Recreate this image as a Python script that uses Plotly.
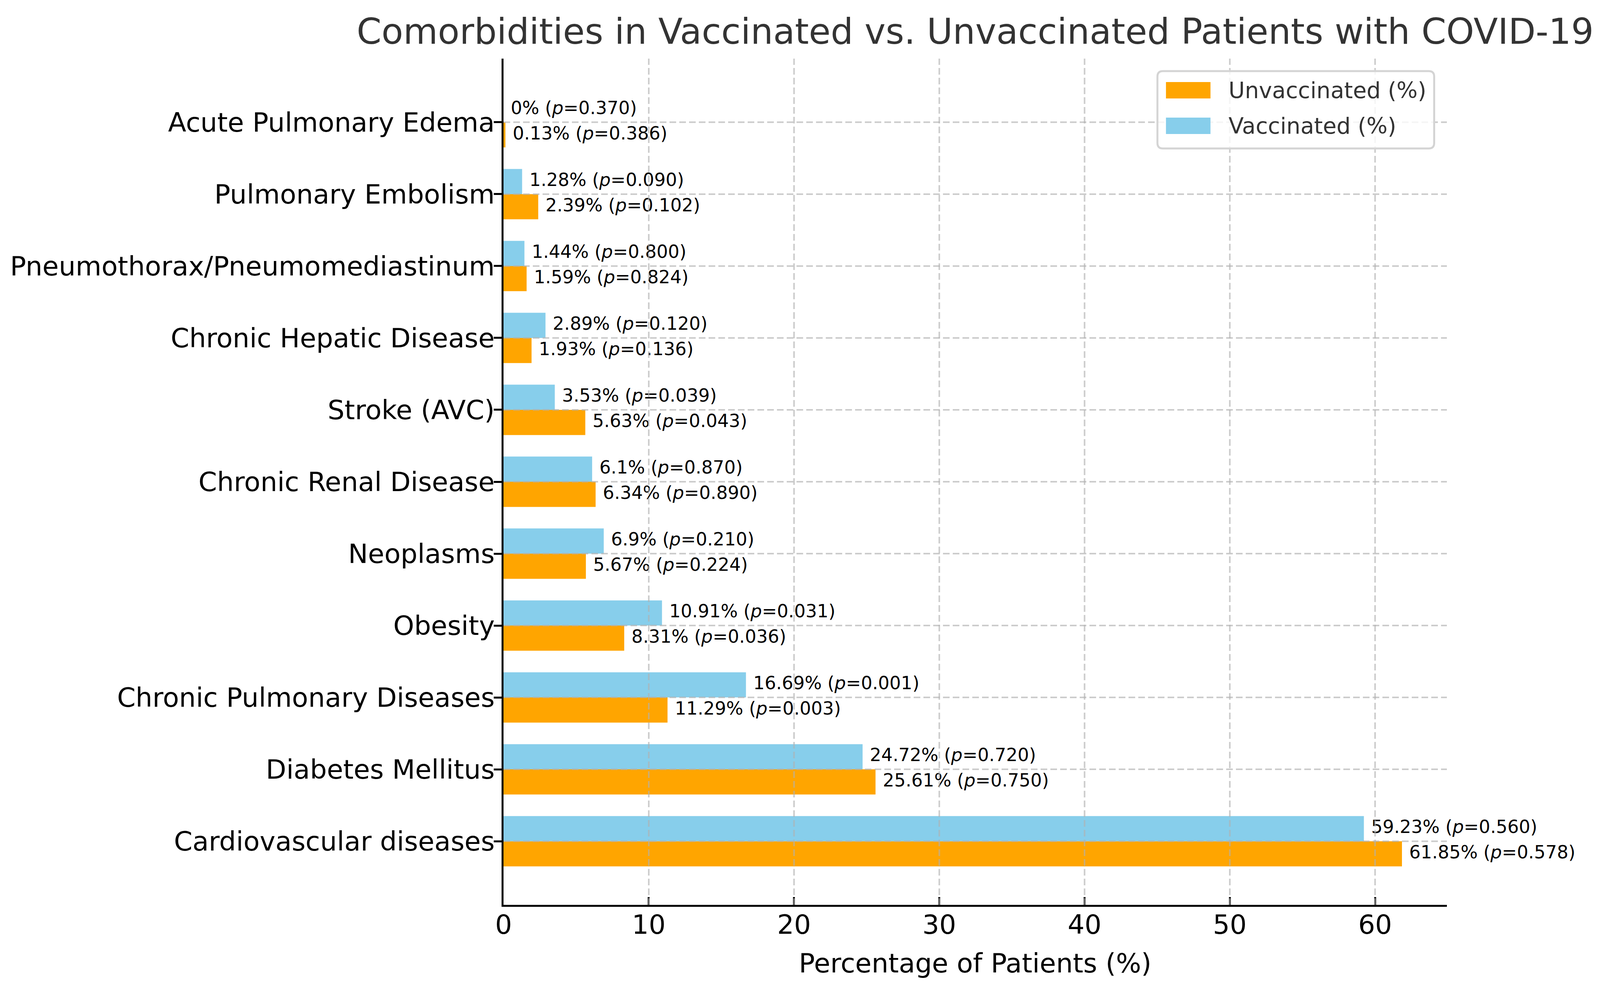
import plotly.graph_objects as go

# ---------------- data ----------------
categories = [
    "Cardiovascular diseases",
    "Diabetes Mellitus",
    "Chronic Pulmonary Diseases",
    "Obesity",
    "Neoplasms",
    "Chronic Renal Disease",
    "Stroke (AVC)",
    "Chronic Hepatic Disease",
    "Pneumothorax/Pneumomediastinum",
    "Pulmonary Embolism",
    "Acute Pulmonary Edema",
]
vaccinated = [59.23, 24.72, 16.69, 10.91, 6.9, 6.1, 3.53, 2.89, 1.44, 1.28, 0]
vaccinated_p = [0.560, 0.720, 0.001, 0.031, 0.210, 0.870, 0.039, 0.120, 0.800, 0.090, 0.370]
unvaccinated = [61.85, 25.61, 11.29, 8.31, 5.67, 6.34, 5.63, 1.93, 1.59, 2.39, 0.13]
unvaccinated_p = [0.578, 0.750, 0.003, 0.036, 0.224, 0.890, 0.043, 0.136, 0.824, 0.102, 0.386]
x_ticks = [0, 10, 20, 30, 40, 50, 60]

title_text = "Comorbidities in Vaccinated vs. Unvaccinated Patients with COVID-19"
x_title = "Percentage of Patients (%)"
legend_names = ["Unvaccinated (%)", "Vaccinated (%)"]

# ---------------- style ----------------
ORANGE = "#FFA500"
SKY = "#87CEEB"
FONT = "DejaVu Sans"
BAR_H = 0.35
LABEL_DX = 0.5

# the photographed viewport is 4096 px wide; map reference x positions onto it
W, H = 4096, 2516
SX = W / 4313.0


def fx(px_ref):
    return px_ref * SX


def fs(size):
    return round(size * SX)


ML = round(fx(1357))
MR = W - round(fx(3900))
MT, MB = 150, 200
PW, PH = W - ML - MR, H - MT - MB

idx = list(range(len(categories)))
xmax = max(max(vaccinated), max(unvaccinated)) * 1.05
span = (len(categories) - 1) + 2 * BAR_H
ymin, ymax = -BAR_H - 0.05 * span, (len(categories) - 1) + BAR_H + 0.05 * span


def lab(v, p):
    return f"{v:g}% (<i>p</i>={p:.3f})"


fig = go.Figure()
fig.add_trace(go.Bar(
    orientation="h", x=unvaccinated, y=idx, width=BAR_H, offset=-BAR_H,
    marker=dict(color=ORANGE, line=dict(width=0)), name=legend_names[0],
    showlegend=False, hoverinfo="x",
))
fig.add_trace(go.Bar(
    orientation="h", x=vaccinated, y=idx, width=BAR_H, offset=0,
    marker=dict(color=SKY, line=dict(width=0)), name=legend_names[1],
    showlegend=False, hoverinfo="x",
))
fig.add_trace(go.Scatter(
    x=[v + LABEL_DX for v in unvaccinated], y=[i - BAR_H / 2 for i in idx],
    mode="text", text=[lab(v, p) for v, p in zip(unvaccinated, unvaccinated_p)],
    textposition="middle right", textfont=dict(family=FONT, size=fs(48), color="#000000"),
    cliponaxis=False, showlegend=False, hoverinfo="skip",
))
fig.add_trace(go.Scatter(
    x=[v + LABEL_DX for v in vaccinated], y=[i + BAR_H / 2 for i in idx],
    mode="text", text=[lab(v, p) for v, p in zip(vaccinated, vaccinated_p)],
    textposition="middle right", textfont=dict(family=FONT, size=fs(48), color="#000000"),
    cliponaxis=False, showlegend=False, hoverinfo="skip",
))

shapes = []
GRID = dict(color="rgba(176,176,176,0.65)", width=4, dash="17px,8px")
for t in x_ticks[1:]:
    shapes.append(dict(type="line", xref="x", yref="paper", x0=t, x1=t, y0=0, y1=1,
                       line=GRID, layer="above"))
for i in idx:
    shapes.append(dict(type="line", xref="paper", yref="y", x0=0, x1=1, y0=i, y1=i,
                       line=GRID, layer="above"))


# manual legend (matplotlib-style rounded box with wide patches)
def ppx(px_ref):
    return (fx(px_ref) - ML) / PW


def ppy(py):
    return (H - MB - py) / PH


lx0, lx1 = ppx(3120), ppx(3866)
ly1, ly0 = ppy(182), ppy(380)
rx, ry = 14 / PW, 14 / PH
path = (f"M{lx0+rx},{ly1} L{lx1-rx},{ly1} Q{lx1},{ly1} {lx1},{ly1-ry} "
        f"L{lx1},{ly0+ry} Q{lx1},{ly0} {lx1-rx},{ly0} L{lx0+rx},{ly0} "
        f"Q{lx0},{ly0} {lx0},{ly0+ry} L{lx0},{ly1-ry} Q{lx0},{ly1} {lx0+rx},{ly1} Z")
shapes.append(dict(type="path", xref="paper", yref="paper", path=path,
                   fillcolor="rgba(255,255,255,0.8)", line=dict(color="#d4d4d4", width=5),
                   layer="above"))
annotations = []
for k, (col, name) in enumerate(zip([ORANGE, SKY], legend_names)):
    cy = 231 + k * 91
    shapes.append(dict(type="rect", xref="paper", yref="paper",
                       x0=ppx(3143), x1=ppx(3263),
                       y0=ppy(cy + 21), y1=ppy(cy - 21),
                       fillcolor=col, line=dict(width=0), layer="above"))
    annotations.append(dict(xref="paper", yref="paper", x=ppx(3310), y=ppy(cy),
                            xanchor="left", yanchor="middle", text=name, showarrow=False,
                            font=dict(family=FONT, size=fs(60), color="#333333")))

fig.update_layout(
    width=W, height=H,
    margin=dict(l=ML, r=MR, t=MT, b=MB, pad=0),
    paper_bgcolor="white", plot_bgcolor="white",
    barmode="overlay",
    font=dict(family=FONT, color="#000000"),
    title=dict(text=title_text, x=0.5, xref="paper", xanchor="center",
               y=1 - 80 / H, yref="container", yanchor="middle",
               font=dict(family=FONT, size=fs(96), color="#333333")),
    xaxis=dict(range=[0, xmax], tickvals=x_ticks, ticks="inside", ticklen=20, tickwidth=5,
               tickcolor="black", showline=True, linewidth=5, linecolor="black",
               showgrid=False, zeroline=False,
               tickfont=dict(family=FONT, size=fs(72), color="#000000"),
               ticklabelstandoff=-13,
               title=dict(text=x_title, font=dict(family=FONT, size=fs(72), color="#000000"),
                          standoff=38)),
    yaxis=dict(range=[ymin, ymax], tickvals=idx, ticktext=categories, ticks="outside",
               ticklen=20, tickwidth=5, tickcolor="black", showline=True, linewidth=5,
               linecolor="black", showgrid=False, zeroline=False,
               tickfont=dict(family=FONT, size=fs(72), color="#000000"), ticklabelstandoff=-16),
    shapes=shapes,
    annotations=annotations,
    showlegend=False,
)

fig.write_html("out.html", config={"displayModeBar": False},
               post_script="document.body.style.margin='0';document.body.style.overflow='hidden';")
